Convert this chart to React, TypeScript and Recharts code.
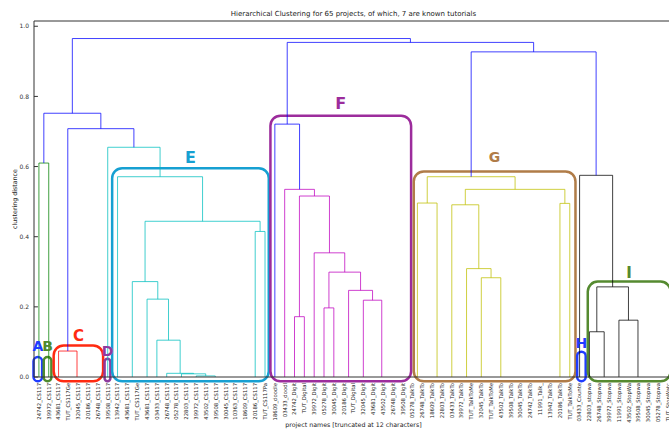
import React from 'react';
import { ComposedChart, Line, XAxis, YAxis, ReferenceArea, ReferenceLine } from 'recharts';

const leafLabels = [
  '24742_CS117', '39972_CS117', '43681_CS117', 'TUT_CS117Ge', '32045_CS117', '20186_CS117', '26748_CS117', '39508_CS117',
  '13942_CS117', '43681_CS117', 'TUT_CS117Ge', '43681_CS117', '03433_CS117', '26748_CS117', '05278_CS117', '22803_CS117',
  '39972_CS117', '43502_CS117', '39508_CS117', '30045_CS117', '10363_CS117', '18609_CS117', '20186_CS117', 'TUT_CS117Pa',
  '18609_doodle', '03433_doodl', '24742_Digit', 'TUT_Digital', '39972_Digit', '05278_Digit', '30045_Digit', '20186_Digit',
  'TUT_Digital', '32045_Digit', '43681_Digit', '43502_Digit', '26748_Digit', '39508_Digit',
  '05278_TalkTo', '26748_TalkTo', '18609_TalkTo', '22803_TalkTo', '03433_TalkTo', '39972_TalkTo', 'TUT_TalkToMe', '32045_TalkTo',
  'TUT_TalkToMe', '43502_TalkTo', '39508_TalkTo', '30045_TalkTo', '24742_TalkTo', '11991_Talk_', '13942_TalkTo', '20186_TalkTo',
  'TUT_TalkToMe', '03433_Counte', '22803_stopwa', '26748_Stopwa', '39972_Stopwa', '11991_Stopwa', '43502_StopWa', '39508_Stopwa',
  '30045_Stopwa', '05278_Stopwa', 'TUT_StopWatc',
];

// [node id, left child, right child, distance]; numbers are leaf indices
const merges: [string, number | string, number | string, number][] = [
  ['ab', 0, 1, 0.61],
  ['c56', 5, 6, 0], ['c4', 4, 'c56', 0], ['c3', 3, 'c4', 0], ['C', 2, 'c3', 0.074],
  ['e910', 9, 10, 0], ['e2021', 20, 21, 0], ['e19', 19, 'e2021', 0], ['e18', 18, 'e19', 0], ['e17', 17, 'e18', 0],
  ['eQ', 16, 'e17', 0.003], ['e1415', 14, 15, 0], ['eZ', 'e1415', 'eQ', 0.009], ['eX', 13, 'eZ', 0.0105],
  ['e12', 12, 'eX', 0.105], ['e11', 11, 'e12', 0.222], ['e9', 'e910', 'e11', 0.272], ['e2223', 22, 23, 0.415],
  ['e444', 'e9', 'e2223', 0.444], ['e8', 8, 'e444', 0.571], ['E', 7, 'e8', 0.655],
  ['CE', 'C', 'E', 0.708], ['left', 'ab', 'CE', 0.752],
  ['f1', 26, 27, 0.172], ['f2', 29, 30, 0.197], ['f3', 31, 32, 0], ['f3637', 36, 37, 0], ['f35', 35, 'f3637', 0],
  ['f34', 34, 'f35', 0], ['f5', 33, 'f34', 0.219], ['f6', 'f3', 'f5', 0.247], ['f7', 'f2', 'f6', 0.299],
  ['f8', 28, 'f7', 0.354], ['f9', 'f1', 'f8', 0.516], ['f10', 25, 'f9', 0.535], ['F', 24, 'f10', 0.721],
  ['g1', 38, 39, 0], ['g2', 40, 41, 0], ['g3', 'g1', 'g2', 0.496], ['g4', 43, 44, 0],
  ['g5a', 51, 52, 0], ['g5b', 50, 'g5a', 0], ['g5c', 49, 'g5b', 0], ['g5d', 48, 'g5c', 0], ['g5e', 47, 'g5d', 0], ['g5', 46, 'g5e', 0],
  ['g6', 45, 'g5', 0.283], ['g7', 'g4', 'g6', 0.309], ['g8', 42, 'g7', 0.491], ['g9', 53, 54, 0.495],
  ['g10', 'g8', 'g9', 0.535], ['G', 'g3', 'g10', 0.571],
  ['k1', 57, 58, 0], ['k2', 56, 'k1', 0.129], ['k3a', 63, 64, 0], ['k3b', 62, 'k3a', 0], ['k3c', 61, 'k3b', 0], ['k3', 60, 'k3c', 0],
  ['k4', 59, 'k3', 0.162], ['k5', 'k2', 'k4', 0.257], ['K', 55, 'k5', 0.575],
  ['b1', 'G', 'K', 0.927], ['b2', 'F', 'b1', 0.954], ['root', 'left', 'b2', 0.965],
];

// annotation boxes: leaf range (fractional leaf index) and top distance
const groups = [
  { letter: 'A', from: -0.55, to: 0.33, top: 0.057 },
  { letter: 'B', from: 0.49, to: 1.27, top: 0.057 },
  { letter: 'C', from: 1.5, to: 6.53, top: 0.09 },
  { letter: 'D', from: 6.68, to: 7.27, top: 0.052 },
  { letter: 'E', from: 7.45, to: 23.38, top: 0.595 },
  { letter: 'F', from: 23.55, to: 37.86, top: 0.745 },
  { letter: 'G', from: 38.13, to: 54.58, top: 0.586 },
  { letter: 'H', from: 54.75, to: 55.62, top: 0.072 },
  { letter: 'I', from: 55.83, to: 64.25, top: 0.272 },
];

const yTicks = [0, 0.2, 0.4, 0.6, 0.8, 1.0];

const groupStyle: Record<string, { color: string; gap: number; size: number }> = {
  A: { color: '#1f3cff', gap: 6, size: 14 },
  B: { color: '#4f8a2e', gap: 6, size: 14 },
  C: { color: '#ff2a10', gap: 4, size: 15 },
  D: { color: '#8e3a9e', gap: 3, size: 14 },
  E: { color: '#16a0d2', gap: 5, size: 16 },
  F: { color: '#9c2c9c', gap: 7, size: 16 },
  G: { color: '#b07c48', gap: 9, size: 14 },
  H: { color: '#1f3cff', gap: 4, size: 14 },
  I: { color: '#558a30', gap: 4, size: 15 },
};

const palette = ['#008000', '#ff0000', '#00bfbf', '#bf00bf', '#bfbf00', '#000000'];
const aboveColor = '#0000ff';
const font = 'DejaVu Sans, sans-serif';

const leafX = leafLabels.map((_, i) => 10 * i + 5);
const maxDist = Math.max(...merges.map((m) => m[3]));
const yMax = 1.015;

type Node = { x: number; h: number; l?: string; r?: string; color?: string };

function buildLinks() {
  const nodes: Record<string, Node> = {};
  leafX.forEach((x, i) => { nodes['L' + i] = { x, h: 0 }; });
  const key = (c: number | string) => (typeof c === 'number' ? 'L' + c : c);
  merges.forEach(([id, a, b, h]) => {
    const l = key(a), r = key(b);
    nodes[id] = { x: (nodes[l].x + nodes[r].x) / 2, h, l, r };
  });
  // scipy-like colouring: clusters below 0.7 * max get a palette colour
  const threshold = 0.7 * maxDist;
  let next = 0;
  const paint = (id: string, inherited: string | null) => {
    const n = nodes[id];
    if (!n.l) return;
    let c = inherited;
    if (!c && n.h < threshold) c = palette[next++ % palette.length];
    n.color = c ?? aboveColor;
    paint(n.l, c);
    paint(n.r!, c);
  };
  paint('root', null);
  return merges.filter((m) => m[3] > 0).map(([id]) => {
    const n = nodes[id], a = nodes[n.l!], b = nodes[n.r!];
    return {
      id,
      color: n.color!,
      points: [{ x: a.x, y: a.h }, { x: a.x, y: n.h }, { x: b.x, y: n.h }, { x: b.x, y: b.h }],
    };
  });
}

const links = buildLinks();

function LeafTick(props: any) {
  const { x, y, payload } = props;
  const i = Math.round((payload.value - 5) / 10);
  return (
    <text transform={`translate(${x},${y + 1}) rotate(-90)`} textAnchor="end" dy="0.35em"
      fontSize={5.3} fill="#222" fontFamily={font}>
      {leafLabels[i]}
    </text>
  );
}

export default function App() {
  return (
    <div style={{ position: 'fixed', left: 0, top: 0, width: 669, height: 433, overflow: 'hidden', background: '#fff' }}>
      <ComposedChart width={700} height={433} margin={{ top: 21, right: 27, bottom: 0, left: 0 }}>
        <XAxis type="number" dataKey="x" domain={[0, 650]} ticks={leafX} interval={0} tick={<LeafTick />}
          tickLine={false} tickSize={3} height={56} axisLine={{ stroke: '#333' }} allowDataOverflow />
        <YAxis type="number" dataKey="y" domain={[0, yMax]} ticks={yTicks} width={34} allowDataOverflow
          tickFormatter={(v: number) => v.toFixed(1)} tickLine={false} tickSize={3} axisLine={{ stroke: '#333' }}
          tick={{ fontSize: 6, fill: '#333', fontFamily: font }} />
        <ReferenceLine y={yMax} stroke="#333" />
        {yTicks.map((v) => (
          <ReferenceLine key={v} segment={[{ x: 0, y: v }, { x: 4, y: v }]} stroke="#333" />
        ))}
        {links.map((l) => (
          <Line key={l.id} data={l.points} dataKey="y" type="linear" stroke={l.color} strokeWidth={1}
            strokeOpacity={0.75} dot={false} activeDot={false} isAnimationActive={false} />
        ))}
        {groups.map((g) => {
          const st = groupStyle[g.letter];
          return (
            <ReferenceArea key={g.letter} x1={10 * g.from + 5} x2={10 * g.to + 5} y1={-0.012} y2={g.top}
              ifOverflow="visible"
              shape={(p: any) => (
                <rect x={p.x} y={p.y} width={p.width} height={p.height} rx={Math.min(10, p.width / 2)}
                  ry={Math.min(10, p.width / 2)} fill="none" stroke={st.color} strokeWidth={2.5} />
              )}
              label={{ value: g.letter, position: 'top', offset: st.gap, fill: st.color, fontSize: st.size,
                fontWeight: 'bold', fontFamily: font }} />
          );
        })}
      </ComposedChart>
      <svg width={669} height={433} style={{ position: 'absolute', left: 0, top: 0, pointerEvents: 'none' }}>
        <text x={353.5} y={16} textAnchor="middle" fontSize={7} fill="#222" fontFamily={font}>
          Hierarchical Clustering for 65 projects, of which, 7 are known tutorials
        </text>
        <text x={353.5} y={427} textAnchor="middle" fontSize={6.3} fill="#222" fontFamily={font}>
          project names [truncated at 12 characters]
        </text>
        <text transform="translate(15,199) rotate(-90)" textAnchor="middle" dy="0.35em" fontSize={6.3}
          fill="#222" fontFamily={font}>
          clustering distance
        </text>
      </svg>
    </div>
  );
}
